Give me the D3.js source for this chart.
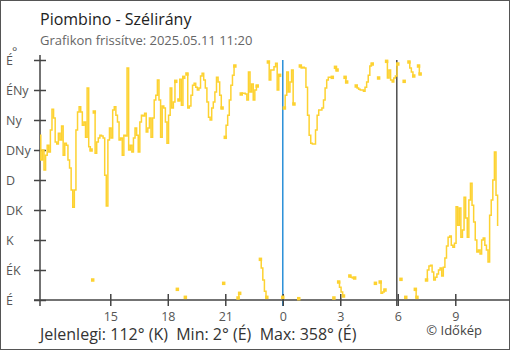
<!DOCTYPE html>
<html>
<head>
<meta charset="utf-8">
<script src="https://cdn.jsdelivr.net/npm/d3@7"></script>
<style>
  html, body { margin: 0; padding: 0; background: #fff; }
  svg { display: block; font-family: "Open Sans", "Noto Sans", sans-serif; }
</style>
</head>
<body>
<svg id="chart" width="510" height="350"></svg>
<script>
// Wind direction readings (degrees), one every 5 minutes from 2025.05.10 11:20 to 2025.05.11 11:15.
// null = no reading.
const windDir = [
  247,210,225,195,217,232,222,255,286,273,237,234,
  250,240,261,217,235,232,210,198,165,139,165,255,
  282,290,282,262,267,244,318,230,225,30,282,220,
  237,243,247,246,243,187,141,240,258,243,285,290,
  277,267,240,243,217,247,246,348,225,232,222,243,
  258,247,222,267,277,276,280,252,258,273,244,273,
  300,307,330,300,244,291,288,267,235,277,318,288,
  297,328,16,300,331,292,334,4,339,288,291,307,
  322,325,319,315,318,336,340,330,318,297,274,270,
  288,297,312,334,327,307,288,25,244,262,277,300,
  322,337,351,null,3,10,309,310,310,309,300,342,
  312,324,300,315,321,null,61,48,30,13,4,357,
  330,345,345,350,355,315,337,null,4,288,307,342,
  312,327,345,294,null,null,2,351,348,349,348,319,
  277,247,235,234,234,255,277,285,285,288,300,318,
  330,334,334,334,3,349,345,27,19,12,6,334,
  327,null,36,34,33,33,321,318,316,315,315,313,
  319,327,337,351,354,null,25,null,333,27,10,12,
  15,358,333,345,330,327,333,336,354,null,31,null,
  328,4,null,357,348,342,336,16,4,351,339,null,
  null,null,30,45,51,52,42,30,34,39,45,48,
  36,49,63,81,94,96,82,79,85,140,112,138,
  94,105,154,123,94,150,175,142,117,90,72,75,
  69,90,93,82,75,57,127,150,180,222,157,112
];
const startTime = new Date(2025, 4, 10, 11, 20);
const endTime = new Date(2025, 4, 11, 11, 20);
const stepMinutes = 5;

// Axis labels
const dirLabels = ["É", "ÉK", "K", "DK", "D", "DNy", "Ny", "ÉNy", "É"];
const dirTicks = [0, 45, 90, 135, 180, 225, 270, 315, 360];
const hourTicks = [
  new Date(2025, 4, 10, 15), new Date(2025, 4, 10, 18), new Date(2025, 4, 10, 21),
  new Date(2025, 4, 11, 0), new Date(2025, 4, 11, 3), new Date(2025, 4, 11, 6), new Date(2025, 4, 11, 9)
];
const midnight = new Date(2025, 4, 11, 0, 0);
const sunrise = new Date(2025, 4, 11, 5, 57);

const title = "Piombino - Szélirány";
const subtitle = "Grafikon frissítve: 2025.05.11 11:20";
const credit = "© Időkép";

const svg = d3.select("#chart");
const W = 510, H = 350;
const plotL = 40, plotR = 500, plotT = 60, plotB = 300;

const x = d3.scaleTime().domain([startTime, endTime]).range([plotL, plotR]);
const y = d3.scaleLinear().domain([0, 360]).range([plotB, plotT]);

const points = windDir.map((v, i) => ({
  t: new Date(startTime.getTime() + i * stepMinutes * 60000), v
}));

// frame
svg.append("rect").attr("x", 0.5).attr("y", 0.5).attr("width", W - 1).attr("height", H - 1)
  .attr("fill", "#fff").attr("stroke", "#555").attr("stroke-width", 1);

// titles
svg.append("text").attr("x", 40).attr("y", 25).attr("font-size", 16).attr("fill", "#222").text(title);
svg.append("text").attr("x", 40).attr("y", 44.5).attr("font-size", 13).attr("fill", "#666").text(subtitle);

// marker lines
svg.append("line").attr("x1", x(midnight)).attr("x2", x(midnight)).attr("y1", plotT).attr("y2", plotB + 6)
  .attr("stroke", "#2a8fd8").attr("stroke-width", 1.5);
svg.append("line").attr("x1", x(sunrise)).attr("x2", x(sunrise)).attr("y1", plotT).attr("y2", plotB + 6)
  .attr("stroke", "#333").attr("stroke-width", 1.3);

// y axis
const yAxis = svg.append("g").attr("transform", `translate(${plotL},0)`)
  .call(d3.axisLeft(y).tickValues(dirTicks).tickSize(6).tickFormat((d, i) => dirLabels[i]));
yAxis.select(".domain").remove();
yAxis.append("line").attr("x1", 0).attr("x2", 0).attr("y1", plotT - 5).attr("y2", plotB + 6)
  .attr("stroke", "#444").attr("stroke-width", 1.5);
yAxis.selectAll(".tick line").attr("x1", -6).attr("x2", 6).attr("stroke", "#444").attr("stroke-width", 1.5);
yAxis.selectAll(".tick text").attr("x", -34).attr("text-anchor", "start").attr("dy", "0.36em")
  .attr("font-size", 12.5).attr("fill", "#555").attr("font-family", "Open Sans");
svg.append("text").attr("x", 12).attr("y", 56).attr("font-size", 12.5).attr("fill", "#555").text("°");

// x axis
const xAxis = svg.append("g").attr("transform", `translate(0,${plotB})`)
  .call(d3.axisBottom(x).tickValues(hourTicks).tickSize(6).tickFormat(d3.timeFormat("%-H")));
xAxis.select(".domain").remove();
xAxis.append("line").attr("x1", plotL - 6).attr("x2", W).attr("y1", 0).attr("y2", 0)
  .attr("stroke", "#444").attr("stroke-width", 1.5);
xAxis.selectAll(".tick line").attr("y1", -6).attr("y2", 6).attr("stroke", "#444").attr("stroke-width", 1.5);
xAxis.selectAll(".tick text").attr("y", 16).attr("dy", "0.36em").attr("font-size", 12.5)
  .attr("fill", "#555").attr("font-family", "Open Sans");

// split the series where readings are missing or the direction wraps past north
const segments = [];
let cur = [];
points.forEach(p => {
  if (p.v === null) { if (cur.length) segments.push(cur); cur = []; return; }
  if (cur.length && Math.abs(p.v - cur[cur.length - 1].v) > 180) { segments.push(cur); cur = []; }
  cur.push(p);
});
if (cur.length) segments.push(cur);

const color = "#fdd231";
const line = d3.line().x(d => x(d.t)).y(d => y(d.v)).curve(d3.curveStep);
svg.append("g").selectAll("path").data(segments.filter(s => s.length > 1)).join("path")
  .attr("d", line).attr("fill", "none").attr("stroke", color).attr("stroke-width", 1.5);

const firstT = points[0].t.getTime();
const lastT = points[points.length - 1].t.getTime();
const marks = [];
segments.forEach(s => {
  [s[0], s[s.length - 1]].forEach(p => {
    const tt = p.t.getTime();
    if (tt !== firstT && tt !== lastT && !marks.includes(p)) marks.push(p);
  });
});
svg.append("g").selectAll("rect").data(marks).join("rect")
  .attr("x", d => x(d.t) - 1.75).attr("y", d => y(d.v) - 1.75)
  .attr("width", 3.5).attr("height", 3.5).attr("fill", color);

// summary line
const valid = windDir.filter(v => v !== null);
const current = valid[valid.length - 1];
const minV = d3.min(valid), maxV = d3.max(valid);
const dirName = v => dirLabels[Math.round(v / 45) % 8];
svg.append("text").attr("x", 40).attr("y", 340).attr("font-size", 16).attr("fill", "#333")
  .attr("xml:space", "preserve")
  .text(`Jelenlegi: ${current}° (${dirName(current)})  Min: ${minV}° (${dirName(minV)})  Max: ${maxV}° (${dirName(maxV)})`);
svg.append("text").attr("x", 482).attr("y", 335).attr("text-anchor", "end").attr("font-size", 13)
  .attr("fill", "#444").text(credit);
</script>
</body>
</html>
